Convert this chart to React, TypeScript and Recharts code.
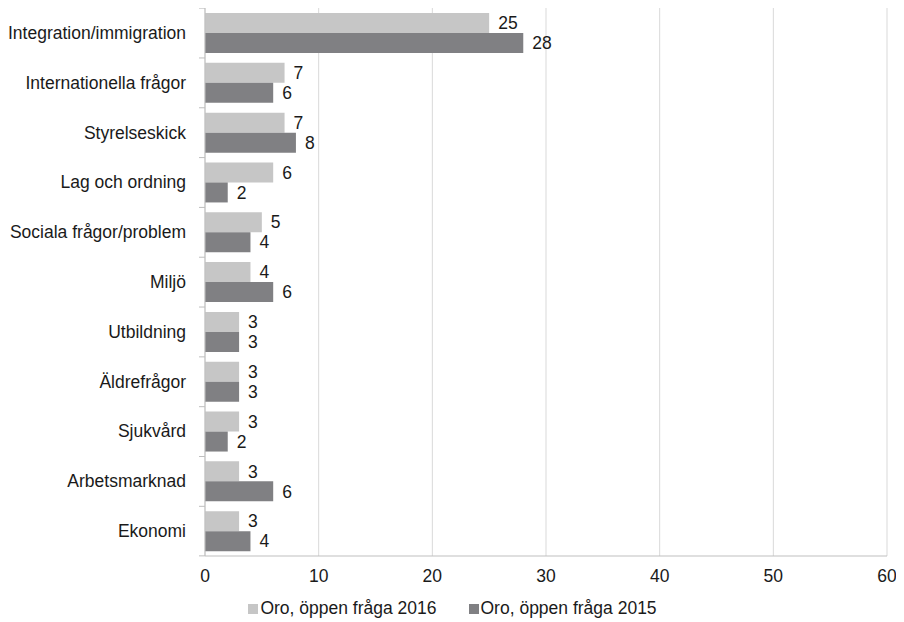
import { BarChart, Bar, XAxis, YAxis, CartesianGrid, Legend, LabelList } from "recharts";

const categories = [
  "Integration/immigration",
  "Internationella frågor",
  "Styrelseskick",
  "Lag och ordning",
  "Sociala frågor/problem",
  "Miljö",
  "Utbildning",
  "Äldrefrågor",
  "Sjukvård",
  "Arbetsmarknad",
  "Ekonomi",
];
const oro2016 = [25, 7, 7, 6, 5, 4, 3, 3, 3, 3, 3];
const oro2015 = [28, 6, 8, 2, 4, 6, 3, 3, 2, 6, 4];
const xTicks = [0, 10, 20, 30, 40, 50, 60];
const seriesNames = ["Oro, öppen fråga 2016", "Oro, öppen fråga 2015"];
const seriesColors = ["#c6c6c6", "#808083"];

const data = categories.map((name, i) => ({
  name,
  a: oro2016[i],
  b: oro2015[i],
}));

const FONT = "'Liberation Sans', Arial, sans-serif";
const FS = 17.5;
const BAND = 545 / categories.length;

const CategoryTick = (props: any) => {
  const { x, y, payload, index } = props;
  const ax = x + 8;
  return (
    <g>
      <line x1={ax - 6} x2={ax} y1={y - BAND / 2} y2={y - BAND / 2} stroke="#bfbfbf" />
      {index === categories.length - 1 && (
        <line x1={ax - 6} x2={ax} y1={y + BAND / 2} y2={y + BAND / 2} stroke="#bfbfbf" />
      )}
      <text x={ax - 19} y={y} dy={6} textAnchor="end" fill="#1a1a1a" fontSize={FS} fontFamily={FONT}>
        {payload.value}
      </text>
    </g>
  );
};

const LegendContent = () => (
  <div
    style={{
      display: "flex",
      justifyContent: "center",
      fontFamily: FONT,
      fontSize: FS,
      color: "#1a1a1a",
      gap: 32,
      lineHeight: "20px",
      paddingLeft: 10,
    }}
  >
    {seriesNames.map((n, i) => (
      <div key={n} style={{ display: "flex", alignItems: "center" }}>
        <span
          style={{
            display: "inline-block",
            width: 10,
            height: 10,
            background: seriesColors[i],
            marginRight: 2,
            marginTop: 2,
          }}
        />
        <span>{n}</span>
      </div>
    ))}
  </div>
);

export default function App() {
  return (
    <BarChart
      width={896}
      height={614}
      data={data}
      layout="vertical"
      margin={{ top: 0, right: 17, bottom: 0, left: 0 }}
      barSize={20}
      barGap={0}
    >
      <CartesianGrid horizontal={false} stroke="#d9d9d9" />
      <XAxis
        type="number"
        domain={[0, 60]}
        ticks={xTicks}
        tickLine={false}
        axisLine={{ stroke: "#bfbfbf" }}
        tick={{ fill: "#1a1a1a", fontSize: FS, fontFamily: FONT }}
        tickMargin={8}
        height={42}
      />
      <YAxis
        type="category"
        dataKey="name"
        width={197}
        tickLine={false}
        axisLine={{ stroke: "#bfbfbf" }}
        tick={<CategoryTick />}
        interval={0}
      />
      <Legend verticalAlign="bottom" height={24} content={<LegendContent />} />
      <Bar dataKey="a" name={seriesNames[0]} fill={seriesColors[0]} isAnimationActive={false}>
        <LabelList dataKey="a" position="right" offset={9} fill="#1a1a1a" fontSize={FS} fontFamily={FONT} />
      </Bar>
      <Bar dataKey="b" name={seriesNames[1]} fill={seriesColors[1]} isAnimationActive={false}>
        <LabelList dataKey="b" position="right" offset={9} fill="#1a1a1a" fontSize={FS} fontFamily={FONT} />
      </Bar>
    </BarChart>
  );
}
